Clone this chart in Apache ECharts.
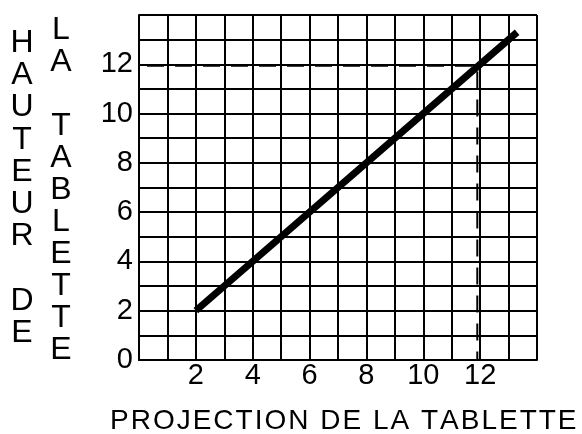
<!DOCTYPE html>
<html>
<head>
<meta charset="utf-8">
<script src="https://cdn.jsdelivr.net/npm/echarts@6/dist/echarts.min.js"></script>
<style>
  html, body { margin: 0; padding: 0; background: #fff; }
  #chart { width: 582px; height: 434px; }
</style>
</head>
<body>
<div id="chart"></div>
<script>
// Tablet height as a function of its projection (both in grid units)
const projection = [2, 13.3];
const height = [2, 13.3];

// Guide read at height 12: across to the line, then down to the projection axis
const guideX = [0, 11.9, 11.9];
const guideY = [11.94, 11.94, 0];

const axisMin = 0;
const axisMax = 14;
const xTickLabels = [2, 4, 6, 8, 10, 12];
const yTickLabels = [0, 2, 4, 6, 8, 10, 12];

const yTitleLeft = ['H', 'A', 'U', 'T', 'E', 'U', 'R', '', 'D', 'E'];
const yTitleRight = ['L', 'A', '', 'T', 'A', 'B', 'L', 'E', 'T', 'T', 'E'];
const xTitle = 'PROJECTION DE LA TABLETTE';

const FONT = '"Liberation Sans", Arial, Helvetica, sans-serif';
const TITLE_SIZE = 28;
const LETTER_GAP = 2;

// Spaced-out title: each character is a rich token whose width is its
// advance plus a small tracking gap.
function trackedText(str, size, gap) {
  const ctx = document.createElement('canvas').getContext('2d');
  ctx.font = size + 'px ' + FONT;
  const rich = {};
  const keys = {};
  let n = 0;
  const parts = [];
  for (const ch of str) {
    if (!(ch in keys)) {
      const key = 'c' + (n++);
      keys[ch] = key;
      rich[key] = {
        width: ctx.measureText(ch).width + gap,
        fontSize: size, fontFamily: FONT, fill: '#000'
      };
    }
    parts.push('{' + keys[ch] + '|' + ch + '}');
  }
  return { text: parts.join(''), rich };
}

const title = trackedText(xTitle, TITLE_SIZE, LETTER_GAP);

const chart = echarts.init(document.getElementById('chart'), null, { renderer: 'canvas' });

const gridLine = { show: true, lineStyle: { color: '#000', width: 2 } };

chart.setOption({
  animation: false,
  backgroundColor: '#fff',
  grid: { left: 139, right: 45, top: 15, bottom: 74, containLabel: false },
  xAxis: {
    type: 'value', min: axisMin, max: axisMax, interval: 1,
    axisLine: { show: true, lineStyle: { color: '#000', width: 2 } },
    axisTick: { show: false },
    splitLine: gridLine,
    axisLabel: {
      color: '#000', fontFamily: FONT, fontSize: 29, margin: 1,
      formatter: v => (xTickLabels.indexOf(v) >= 0 ? String(v) : '')
    }
  },
  yAxis: {
    type: 'value', min: axisMin, max: axisMax, interval: 1,
    axisLine: { show: true, lineStyle: { color: '#000', width: 2 } },
    axisTick: { show: false },
    splitLine: gridLine,
    axisLabel: {
      color: '#000', fontFamily: FONT, fontSize: 29, margin: 6,
      formatter: v => (yTickLabels.indexOf(v) >= 0 ? String(v) : '')
    }
  },
  series: [
    {
      type: 'line',
      data: guideX.map((x, i) => [x, guideY[i]]),
      symbol: 'none',
      silent: true,
      z: 3,
      lineStyle: { color: '#000', width: 2, type: [17, 11], dashOffset: 20 }
    },
    {
      type: 'line',
      data: projection.map((x, i) => [x, height[i]]),
      symbol: 'none',
      silent: true,
      z: 4,
      lineStyle: { color: '#000', width: 7, cap: 'butt' }
    }
  ],
  graphic: [
    {
      type: 'text', left: 10, top: 27,
      style: {
        text: yTitleLeft.join('\n'), fill: '#000',
        font: '32px ' + FONT, lineHeight: 32.25, textAlign: 'center', width: 24
      }
    },
    {
      type: 'text', left: 49, top: 14,
      style: {
        text: yTitleRight.join('\n'), fill: '#000',
        font: '32px ' + FONT, lineHeight: 32, textAlign: 'center', width: 24
      }
    },
    {
      type: 'text', left: 110, top: 407,
      style: { text: title.text, rich: title.rich, fill: '#000' }
    }
  ]
});
</script>
</body>
</html>
